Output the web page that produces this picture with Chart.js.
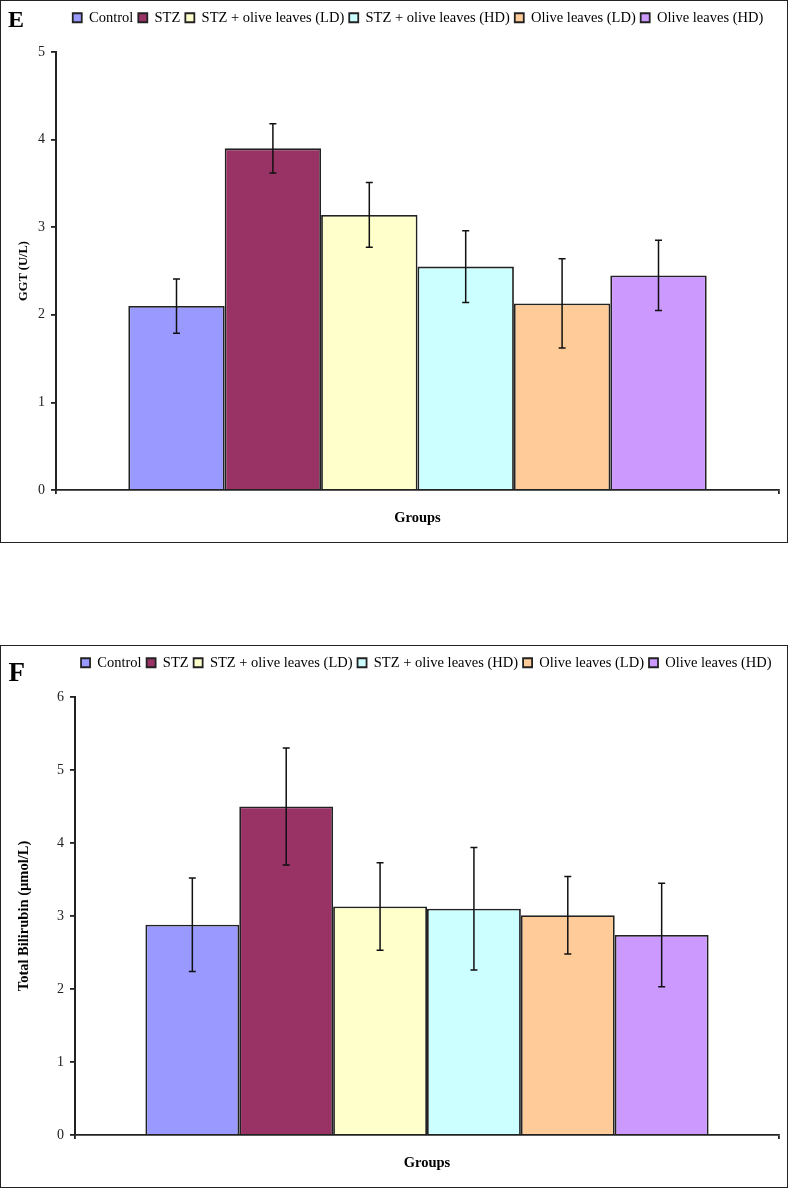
<!DOCTYPE html>
<html>
<head>
<meta charset="utf-8">
<script src="https://cdn.jsdelivr.net/npm/chart.js@4/dist/chart.umd.min.js"></script>
<style>
  html, body { margin: 0; padding: 0; background: #fff; }
  .panel { position: absolute; left: 0; width: 788px; height: 543px; }
  .frame { position: absolute; left: 0; width: 788px; height: 543px; box-sizing: border-box; border: 1.5px solid #222; pointer-events: none; }
  canvas { position: absolute; left: 0; top: 0; }
</style>
</head>
<body>
<div class="panel" style="top:0px"><canvas id="c1" width="788" height="543"></canvas></div>
<div class="frame" style="top:0px"></div>
<div class="panel" style="top:645px"><canvas id="c2" width="788" height="543"></canvas></div>
<div class="frame" style="top:645px"></div>
<script>
// ---- data ----
const groups = ['Control', 'STZ', 'STZ + olive leaves (LD)', 'STZ + olive leaves (HD)', 'Olive leaves (LD)', 'Olive leaves (HD)'];
const categories = ['Groups'];
const ggtMean = [2.10, 3.90, 3.14, 2.55, 2.13, 2.45];
const ggtErr  = [0.31, 0.28, 0.37, 0.41, 0.51, 0.40];
const bilMean = [2.88, 4.50, 3.13, 3.10, 3.01, 2.74];
const bilErr  = [0.64, 0.80, 0.60, 0.84, 0.53, 0.71];
const ggtTicks = [0, 1, 2, 3, 4, 5];
const bilTicks = [0, 1, 2, 3, 4, 5, 6];
const colors = ['#9999FF', '#993366', '#FFFFCC', '#CCFFFF', '#FFCC99', '#CC99FF'];

const SERIF = '"Liberation Serif", "Times New Roman", serif';
const INK = '#222';

const errorBarPlugin = {
  id: 'errorBars',
  afterDatasetsDraw(chart, args, opts) {
    const ctx = chart.ctx;
    const y = chart.scales.y;
    ctx.save();
    ctx.strokeStyle = '#111';
    ctx.lineWidth = 1.5;
    chart.data.datasets.forEach((ds, i) => {
      const meta = chart.getDatasetMeta(i);
      meta.data.forEach((bar, j) => {
        const v = ds.data[j];
        const e = opts.values[i];
        const yt = y.getPixelForValue(v + e);
        const yb = y.getPixelForValue(v - e);
        const x = bar.x;
        ctx.beginPath();
        ctx.moveTo(x, yt); ctx.lineTo(x, yb);
        ctx.moveTo(x - 3.5, yt); ctx.lineTo(x + 3.5, yt);
        ctx.moveTo(x - 3.5, yb); ctx.lineTo(x + 3.5, yb);
        ctx.stroke();
      });
    });
    ctx.restore();
  }
};

const panelLabelPlugin = {
  id: 'panelLabel',
  afterDraw(chart, args, opts) {
    const ctx = chart.ctx;
    ctx.save();
    ctx.fillStyle = '#000';
    ctx.font = 'bold ' + opts.size + 'px ' + SERIF;
    ctx.textBaseline = 'alphabetic';
    ctx.textAlign = 'left';
    ctx.fillText(opts.text, opts.x, opts.y);
    ctx.restore();
  }
};

const legendShiftPlugin = {
  id: 'legendShift',
  afterLayout(chart, args, opts) {
    const lg = chart.legend;
    if (!lg) return;
    const h = lg.bottom - lg.top;
    lg.top = opts.top;
    lg.bottom = opts.top + h;
    const cx = (lg.left + lg.right) / 2;
    const dx = opts.centerX - cx;
    lg.left += dx;
    lg.right += dx;
  }
};

function makeChart(id, means, errs, ticks, yTitle, yTitleSize, yTitlePad, axisLeft, legendCenter, panel) {
  const datasets = groups.map((g, i) => ({
    label: g,
    data: [means[i]],
    backgroundColor: colors[i],
    borderColor: INK,
    borderWidth: 1.8,
    categoryPercentage: 0.8,
    barPercentage: 1.0
  }));
  return new Chart(document.getElementById(id), {
    type: 'bar',
    data: { labels: categories, datasets },
    plugins: [errorBarPlugin, panelLabelPlugin, legendShiftPlugin],
    options: {
      responsive: false,
      animation: false,
      events: [],
      layout: { padding: { top: 22.5, left: 0, right: 9, bottom: 0 } },
      plugins: {
        tooltip: { enabled: false },
        legend: {
          display: true,
          position: 'top',
          labels: {
            boxWidth: 9,
            boxHeight: 9,
            padding: 5,
            color: '#000',
            font: { family: SERIF, size: 14.5 }
          }
        },
        errorBars: { values: errs },
        panelLabel: panel,
        legendShift: { top: 5.5, centerX: legendCenter }
      },
      scales: {
        x: {
          type: 'category',
          offset: true,
          ticks: { display: false },
          grid: { display: true, drawOnChartArea: false, drawTicks: true, tickLength: 4, color: INK, lineWidth: 1.8, offset: true },
          border: { display: true, color: INK, width: 1.8 },
          title: {
            display: true, text: 'Groups', color: '#000',
            font: { family: SERIF, size: 14.5, weight: 'bold' },
            padding: { top: 15.3, bottom: 16.3 }
          }
        },
        y: {
          min: ticks[0],
          max: ticks[ticks.length - 1],
          afterBuildTicks: (axis) => { axis.ticks = ticks.map(v => ({ value: v })); },
          afterFit: (axis) => { axis.width = axisLeft; },
          ticks: {
            color: INK,
            padding: 6,
            font: { family: SERIF, size: 14 },
            callback: (v) => String(v)
          },
          grid: { display: true, drawOnChartArea: false, drawTicks: true, tickLength: 5, color: INK, lineWidth: 1.8 },
          border: { display: true, color: INK, width: 2 },
          title: {
            display: true, text: yTitle, color: '#000',
            font: { family: SERIF, size: yTitleSize, weight: 'bold' },
            padding: { top: yTitlePad, bottom: 4 }
          }
        }
      }
    }
  });
}

Chart.defaults.font.family = SERIF;
makeChart('c1', ggtMean, ggtErr, ggtTicks, 'GGT (U/L)', 12.5, 16, 56, 418, { text: 'E', size: 24, x: 8, y: 27 });
makeChart('c2', bilMean, bilErr, bilTicks, 'Total Bilirubin (µmol/L)', 14.5, 15.3, 75, 426.3, { text: 'F', size: 27, x: 8.5, y: 35.7 });
</script>
</body>
</html>
